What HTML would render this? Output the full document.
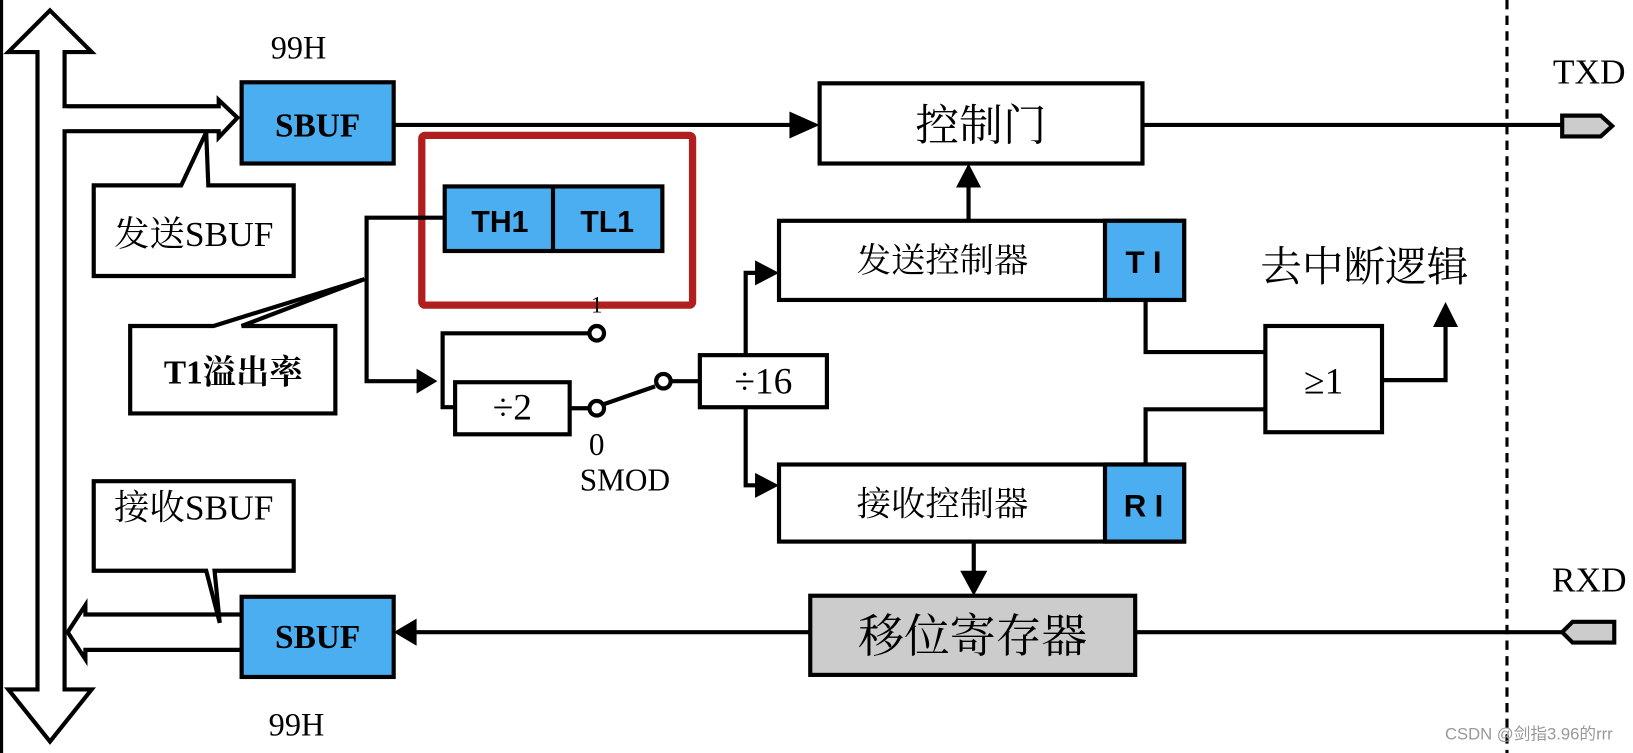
<!DOCTYPE html>
<html><head><meta charset="utf-8"><style>
html,body{margin:0;padding:0;background:#fff;}
svg{display:block;}
.s{font-family:"Liberation Serif","Noto Serif CJK SC",serif;}
.a{font-family:"Liberation Sans","Noto Sans CJK SC",sans-serif;}
</style></head><body>
<svg width="1633" height="753" viewBox="0 0 1568 723" preserveAspectRatio="none" xmlns="http://www.w3.org/2000/svg">
<rect width="1568" height="723" fill="#fff"/>
<line x1="1.5" y1="0" x2="1.5" y2="723" stroke="#000" stroke-width="3"/>
<g stroke="#000" stroke-width="4" fill="none" stroke-linejoin="miter">
<polygon points="48,10 88,50 62,50 62,662 88,662 48,712 8,662 36,662 36,50 8,50" fill="#fff"/>
<polyline points="62,102 210,102 210,96 228,113 210,132 210,126 62,126" fill="#fff"/>
<line x1="62" y1="104" x2="62" y2="124" stroke="#fff" stroke-width="5"/>
<polyline points="232,590 82,590 82,581 65,607 82,633 82,624 232,624" fill="#fff"/>
</g>
<g stroke="#000" stroke-width="4" fill="none">
<rect x="232" y="79" width="146" height="78" fill="#4aaef0"/>
<line x1="378" y1="120" x2="770" y2="120"/>
<rect x="787" y="80" width="310" height="77" fill="#fff"/>
<line x1="1097" y1="120" x2="1500" y2="120"/>
<polygon points="1500,111 1537,111 1548,121 1537,131 1500,131" fill="#ccc"/>
<polygon points="90,178 174,178 198,127 200,178 282,178 282,265 90,265" fill="#fff"/>
<rect x="405" y="130" width="260" height="163" rx="3" stroke="#b01e1e" stroke-width="7"/>
<rect x="427" y="179" width="209" height="62" fill="#4aaef0"/>
<line x1="531" y1="179" x2="531" y2="241"/>
<polyline points="427,209 352,209 352,366 410,366"/>
<polygon points="125,313 205,313 350,268 232,313 322,313 322,397 125,397" fill="#fff"/>
<polyline points="566,320 425,320 425,391 437,391"/>
<rect x="437" y="367" width="110" height="50" fill="#fff"/>
<line x1="547" y1="392" x2="565" y2="392"/>
<line x1="580" y1="388" x2="629" y2="371"/>
<line x1="644" y1="366" x2="672" y2="366"/>
<circle cx="573" cy="320" r="7" fill="#fff"/>
<circle cx="573" cy="392" r="7" fill="#fff"/>
<circle cx="637" cy="366" r="7" fill="#fff"/>
<polyline points="738,262 716,262 716,466 738,466"/>
<rect x="672" y="341" width="122" height="50" fill="#fff"/>
<rect x="748" y="212" width="389" height="76" fill="#fff"/>
<rect x="1061" y="212" width="76" height="76" fill="#4aaef0"/>
<line x1="930" y1="212" x2="930" y2="172"/>
<rect x="748" y="446" width="389" height="74" fill="#fff"/>
<rect x="1061" y="446" width="76" height="74" fill="#4aaef0"/>
<line x1="935" y1="520" x2="935" y2="555"/>
<polyline points="1100,288 1100,338 1215,338"/>
<polyline points="1100,446 1100,393 1215,393"/>
<rect x="1215" y="313" width="112" height="102" fill="#fff"/>
<polyline points="1327,365 1388,365 1388,305"/>
<rect x="778" y="572" width="312" height="76" fill="#ccc"/>
<line x1="778" y1="607" x2="396" y2="607"/>
<line x1="1090" y1="607" x2="1500" y2="607"/>
<polygon points="1550,597 1510,597 1500,607 1510,617 1550,617" fill="#ccc"/>
<polygon points="90,462 282,462 282,548 206,548 211,598 198,548 90,548" fill="#fff"/>
<rect x="232" y="573" width="146" height="77" fill="#4aaef0"/>
</g>
<g fill="#000">
<polygon points="787,120 758,107 758,133"/>
<polygon points="420,366 400,354 400,378"/>
<polygon points="748,262 725,250 725,274"/>
<polygon points="748,466 725,454 725,478"/>
<polygon points="930,157 918,180 942,180"/>
<polygon points="935,572 922,548 948,548"/>
<polygon points="1388,290 1376,314 1400,314"/>
<polygon points="378,607 400,594 400,620"/>
</g>
<line x1="1447" y1="0" x2="1447" y2="723" stroke="#000" stroke-width="3" stroke-dasharray="9,6"/>
<g class="s" fill="#000">
<text x="260" y="56" font-size="31">99H</text>
<text x="258" y="706" font-size="31">99H</text>
<text x="305" y="131" font-size="32" font-weight="bold" text-anchor="middle">SBUF</text>
<text x="305" y="622" font-size="32" font-weight="bold" text-anchor="middle">SBUF</text>
<text x="186" y="236" font-size="34" text-anchor="middle">发送SBUF</text>
<text x="186" y="499" font-size="34" text-anchor="middle">接收SBUF</text>
<text x="224" y="368" font-size="32" font-weight="bold" text-anchor="middle">T1溢出率</text>
<text x="942" y="135" font-size="42" text-anchor="middle">控制门</text>
<text x="905" y="261" font-size="33" text-anchor="middle">发送控制器</text>
<text x="905" y="495" font-size="33" text-anchor="middle">接收控制器</text>
<text x="934" y="626" font-size="44" text-anchor="middle">移位寄存器</text>
<text x="1310" y="270" font-size="40" text-anchor="middle">去中断逻辑</text>
<text x="1271" y="378" font-size="36" text-anchor="middle">≥1</text>
<text x="492" y="403" font-size="36" text-anchor="middle">÷2</text>
<text x="733" y="378" font-size="36" text-anchor="middle">÷16</text>
<text x="573" y="300" font-size="22" text-anchor="middle">1</text>
<text x="573" y="437" font-size="30" text-anchor="middle">0</text>
<text x="600" y="471" font-size="30" text-anchor="middle">SMOD</text>
<text x="1526" y="80" font-size="34" text-anchor="middle">TXD</text>
<text x="1526" y="568" font-size="34" text-anchor="middle">RXD</text>
</g>
<g class="a" fill="#000" font-weight="bold" text-anchor="middle">
<text x="480" y="223" font-size="29">TH1</text>
<text x="583" y="223" font-size="29">TL1</text>
<text x="1102" y="262" font-size="30" letter-spacing="8">TI</text>
<text x="1102" y="496" font-size="30" letter-spacing="8">RI</text>
</g>
<text x="1468" y="710" class="a" font-size="16" fill="#999" text-anchor="middle">CSDN @剑指3.96的rrr</text>
</svg>
</body></html>
